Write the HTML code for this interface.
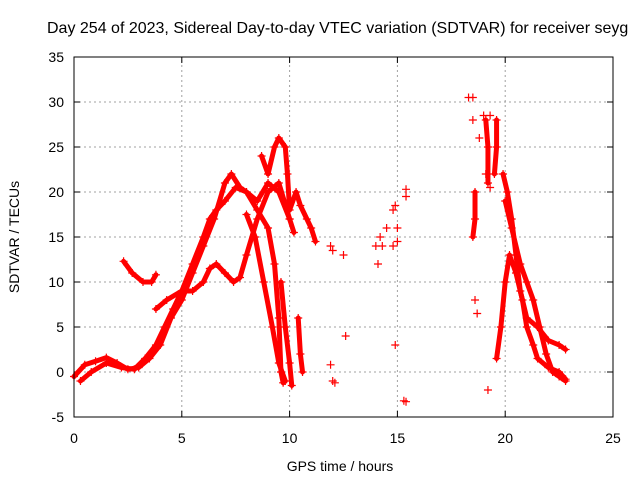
<!DOCTYPE html>
<html><head><meta charset="utf-8"><style>
body{margin:0;background:#fff;}
svg text{font-family:"Liberation Sans",sans-serif;font-size:14px;fill:#000;}
</style></head><body>
<svg width="640" height="480">
<rect x="0" y="0" width="640" height="480" fill="#fff"/>
<text x="47" y="33" text-anchor="start" style="font-size:16px">Day 254 of 2023, Sidereal Day-to-day VTEC variation (SDTVAR) for receiver seyg</text>
<g id="grid"></g>
<g id="axes"></g>
<g id="series"></g>
<rect x="74" y="57" width="539" height="360" fill="none" stroke="#000" stroke-width="1"/>
<text x="340" y="471" text-anchor="middle">GPS time / hours</text>
<text transform="translate(19,237) rotate(-90)" text-anchor="middle">SDTVAR / TECUs</text>
</svg>
<script>
const xTicks=[0,5,10,15,20,25];
const yTicks=[-5,0,5,10,15,20,25,30,35];
const trackA=[[0,-0.5],[0.5,0.8],[1,1.2],[1.5,1.6],[2,1],[2.5,0.3],[3,0.5],[3.5,1.5],[4,3],[4.5,6],[5,8],[5.5,11],[6,14],[6.5,17],[7,21],[7.3,22],[7.7,20.5],[8,20],[8.5,18],[9,16],[9.3,12],[9.5,6],[9.6,0],[9.7,-1.2]];
const trackB=[[0.3,-1],[0.8,0],[1.5,1],[2.2,0.5],[2.8,0.3],[3.3,1.5],[3.8,3],[4.2,5],[4.6,7],[5,9],[5.5,12],[6,15],[6.3,17],[6.6,18],[7,19],[7.5,20.5],[8,20],[8.5,19],[9,21],[9.5,20],[10,17],[10.2,15.5]];
const trackC=[[2.3,12.3],[2.7,11],[3.2,10],[3.6,10],[3.8,10.8]];
const trackD=[[3.8,7],[4.3,8],[5,9],[5.5,9],[6,10],[6.3,11.5],[6.6,12],[7,11],[7.4,10],[7.7,10.5],[8,13],[8.5,17],[9,20],[9.5,21],[10,17]];
const trackE=[[8.7,24],[9,22],[9.3,25],[9.5,26],[9.8,25],[9.9,22],[10,18],[10.3,20],[10.5,18.5],[10.8,17],[11,16],[11.2,14.5]];
const trackF=[[8,17.5],[8.4,15],[8.8,10],[9.2,5],[9.5,1],[9.8,-1]];
const trackG=[[9.6,10],[9.8,5],[10,1],[10.1,-1.5]];
const trackH=[[10.4,6],[10.5,2],[10.6,0]];
const trackI=[[19.6,1.5],[19.8,5],[20,10],[20.2,13],[20.5,11],[20.8,8],[21,5],[21.3,3],[21.5,1.5],[22,0.5],[22.5,0],[22.8,-0.8]];
const trackJ=[[19.9,22],[20.1,20],[20.3,17],[20.5,13],[20.7,9],[21,6],[21.5,5],[22,3.5],[22.5,3],[22.8,2.5]];
const trackK=[[20,19],[20.3,16],[20.7,12],[21,10],[21.3,8],[21.6,5],[21.9,2],[22.2,0],[22.5,-0.5],[22.8,-1]];
const trackL=[[18.6,20],[18.6,17],[18.5,15]];
const trackM=[[19.1,28],[19.2,25],[19.2,21]];
const trackN=[[19.6,28],[19.6,25],[19.5,22]];
const scatter=[[11.9,0.8],[12,-1],[12.1,-1.2],[11.9,14],[12,13.5],[12.5,13],[12.6,4],[14,14],[14.2,15],[14.5,16],[14.1,12],[14.3,14],[14.8,18],[14.9,18.5],[14.8,14],[15,14.5],[14.9,3],[15,16],[15.4,20.3],[15.4,19.5],[15.3,-3.2],[15.4,-3.3],[18.3,30.5],[18.5,30.5],[18.5,28],[18.6,8],[18.7,6.5],[18.8,26],[19,28.5],[19.2,-2],[19.3,28.5],[19.1,22],[19.3,20.5]];
const tracks=[trackA,trackB,trackC,trackD,trackE,trackF,trackG,trackH,trackI,trackJ,trackK,trackL,trackM,trackN];

const X0=74,X1=613,Y0=417,Y1=57;
function xs(v){return X0+(v-0)/(25-0)*(X1-X0);}
function ys(v){return Y0-(v+5)/(35+5)*(Y0-Y1);}
const NS="http://www.w3.org/2000/svg";
function mk(t,a,p){const e=document.createElementNS(NS,t);for(const k in a)e.setAttribute(k,a[k]);p.appendChild(e);return e;}
const grid=document.getElementById('grid'),axes=document.getElementById('axes'),ser=document.getElementById('series');
xTicks.forEach(t=>{
  const g=mk('line',{x1:xs(t),x2:xs(t),y1:Y0,y2:Y1,stroke:'#a0a0a0','stroke-dasharray':'2,3'},grid);
  
  
  mk('line',{x1:xs(t),x2:xs(t),y1:Y0,y2:Y0-6,stroke:'#000'},axes);
  mk('line',{x1:xs(t),x2:xs(t),y1:Y1,y2:Y1+6,stroke:'#000'},axes);
  const l=mk('text',{x:xs(t),y:Y0+26,'text-anchor':'middle'},axes);l.textContent=t;
  
  
});
yTicks.forEach(t=>{
  const g=mk('line',{x1:X0,x2:X1,y1:ys(t),y2:ys(t),stroke:'#a0a0a0','stroke-dasharray':'2,3'},grid);
  
  
  mk('line',{x1:X0,x2:X0+6,y1:ys(t),y2:ys(t),stroke:'#000'},axes);
  mk('line',{x1:X1,x2:X1-6,y1:ys(t),y2:ys(t),stroke:'#000'},axes);
  const l=mk('text',{x:X0-10,y:ys(t)+5,'text-anchor':'end'},axes);l.textContent=t;
  
  
});
function plus(x,y){
  const p=mk('path',{d:`M${x-4},${y}h8M${x},${y-4}v8`,stroke:'#f00','stroke-width':1.2},ser);
  
  
}
tracks.forEach(tr=>{
  const pl=mk('polyline',{points:tr.map(p=>xs(p[0])+','+ys(p[1])).join(' '),fill:'none',stroke:'#f00','stroke-width':5,'stroke-linejoin':'round','stroke-linecap':'round'},ser);
  
  
  tr.forEach(p=>plus(xs(p[0]),ys(p[1])));
});
scatter.forEach(p=>plus(xs(p[0]),ys(p[1])));
</script>
</body></html>
